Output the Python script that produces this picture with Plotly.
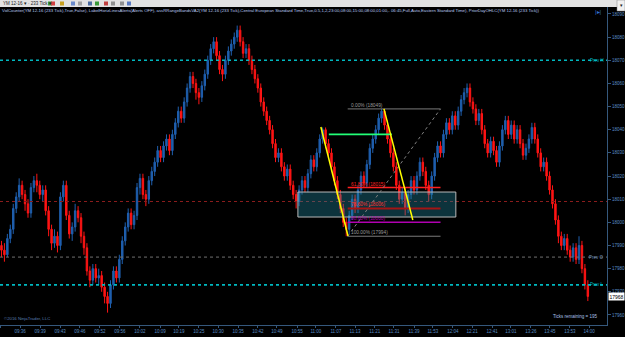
import plotly.graph_objects as go

# ---------------- data ----------------
closes = [17988,17986,17993,17997,18006,18011,18016,18012,18008,18004,
18015,18018,18016,18012,18014,18005,17997,17991,17994,17990,
18011,18016,18003,17995,17998,18005,18002,17994,17989,17979,
17975,17980,17976,17977,17972,17968,17965,17973,17979,17976,
17984,17992,17998,18004,17999,18003,18015,18019,18012,18010,
18018,18022,18026,18031,18028,18033,18036,18031,18038,18043,
18048,18045,18052,18058,18063,18060,18056,18054,18059,18064,
18070,18075,18078,18072,18066,18064,18070,18074,18077,18080,
18083,18078,18073,18075,18070,18066,18062,18058,18052,18048,
18044,18040,18034,18028,18030,18024,18020,18023,18016,18012,
18009,18014,18018,18015,18021,18027,18024,18030,18036,18040,
18034,18030,18024,18018,18012,18006,18000,17997,18003,18010,
18006,18014,18020,18017,18025,18032,18036,18040,18045,18048,
18042,18036,18030,18024,18016,18010,18013,18006,18012,18018,
18014,18020,18026,18022,18016,18012,18020,18028,18033,18030,
18038,18043,18040,18046,18042,18048,18053,18056,18058,18052,
18049,18044,18047,18040,18034,18030,18035,18031,18026,18033,
18040,18044,18038,18042,18036,18040,18034,18029,18032,18036,
18041,18036,18030,18024,18026,18020,18014,18008,18001,17994,
17990,17993,17988,17985,17989,17984,17990,17980,17973,17968]

opens = [17990,17988,17986,17993,17997,18006,18011,18016,18012,18008,
18004,18015,18018,18016,18012,18014,18005,17997,17991,17994,
17990,18011,18016,18003,17995,17998,18005,18002,17994,17989,
17979,17975,17980,17976,17977,17972,17968,17965,17973,17979,
17976,17984,17992,17998,18004,17999,18003,18015,18019,18012,
18010,18018,18022,18026,18031,18028,18033,18036,18031,18038,
18043,18048,18045,18052,18058,18063,18060,18056,18054,18059,
18064,18070,18075,18078,18072,18066,18064,18070,18074,18077,
18080,18083,18078,18073,18075,18070,18066,18062,18058,18052,
18048,18044,18040,18034,18028,18030,18024,18020,18023,18016,
18012,18009,18014,18018,18015,18021,18027,18024,18030,18036,
18040,18034,18030,18024,18018,18012,18006,18000,17997,18003,
18010,18006,18014,18020,18017,18025,18032,18036,18040,18045,
18048,18042,18036,18030,18024,18016,18010,18013,18006,18012,
18018,18014,18020,18026,18022,18016,18012,18020,18028,18033,
18030,18038,18043,18040,18046,18042,18048,18053,18056,18058,
18052,18049,18044,18047,18040,18034,18030,18035,18031,18026,
18033,18040,18044,18038,18042,18036,18040,18034,18029,18032,
18036,18041,18036,18030,18024,18026,18020,18014,18008,18001,
17994,17990,17993,17988,17985,17989,17984,17990,17980,17973]

highs = [17992,17991,17995,17999,18008,18013,18019,18018,18014,18010,
18017,18020,18021,18018,18016,18016,18007,17999,17997,17996,
18013,18018,18018,18005,18000,18008,18007,18004,17996,17991,
17981,17982,17982,17980,17979,17974,17970,17975,17981,17981,
17986,17994,18000,18006,18006,18005,18017,18021,18021,18014,
18020,18024,18028,18033,18033,18035,18038,18038,18040,18045,
18050,18050,18054,18060,18065,18065,18062,18058,18061,18066,
18072,18077,18080,18080,18074,18068,18072,18076,18079,18082,
18085,18085,18080,18077,18077,18072,18068,18064,18060,18054,
18050,18046,18042,18036,18032,18032,18026,18025,18025,18018,
18014,18016,18020,18020,18023,18029,18029,18032,18038,18041,
18041,18036,18032,18026,18020,18014,18008,18002,18005,18012,
18012,18016,18022,18022,18027,18034,18038,18042,18047,18049,
18049,18044,18038,18032,18026,18018,18015,18015,18014,18020,
18020,18022,18028,18028,18024,18018,18022,18030,18035,18035,
18040,18045,18045,18048,18048,18050,18055,18058,18060,18060,
18054,18051,18049,18049,18042,18036,18037,18037,18033,18035,
18042,18046,18046,18044,18044,18042,18042,18036,18034,18038,
18043,18043,18038,18032,18028,18028,18022,18016,18010,18003,
17996,17995,17995,17990,17991,17991,17994,17992,17982,17975]

lows = [17985,17983,17985,17991,17995,18004,18009,18010,18005,18002,
18002,18013,18013,18010,18009,18003,17994,17988,17989,17987,
17988,18009,18001,17993,17992,17996,18000,17991,17986,17977,
17972,17973,17974,17973,17970,17965,17961,17963,17971,17974,
17974,17982,17990,17996,17997,17997,18001,18012,18010,18007,
18008,18016,18020,18024,18026,18026,18031,18029,18029,18036,
18041,18043,18043,18050,18056,18058,18053,18051,18052,18057,
18062,18068,18073,18070,18064,18061,18062,18068,18072,18075,
18078,18076,18071,18071,18068,18064,18060,18056,18050,18046,
18042,18038,18032,18026,18026,18022,18018,18018,18014,18010,
18006,18007,18012,18013,18013,18019,18022,18022,18028,18034,
18032,18028,18022,18016,18010,18004,17998,17994,17995,18001,
18004,18004,18012,18015,18015,18023,18030,18034,18038,18043,
18040,18034,18028,18022,18014,18008,18008,18003,18004,18010,
18012,18012,18018,18020,18014,18009,18010,18018,18026,18028,
18028,18036,18038,18038,18040,18040,18046,18051,18054,18050,
18047,18042,18042,18038,18032,18028,18028,18029,18024,18024,
18031,18038,18036,18036,18034,18034,18032,18027,18027,18030,
18034,18034,18028,18022,18022,18018,18012,18006,17999,17991,
17988,17988,17986,17983,17983,17982,17982,17978,17971,17966]

bar_index = list(range(len(closes)))

time_ticks = [-0.3, 6.3, 13.1, 19.9, 26.6, 33.4, 40.2, 47.0, 53.8, 60.2, 67.0,
              73.5, 80.3, 87.0, 93.5, 100.3, 106.7, 113.5, 120.0, 126.7, 133.2,
              140.0, 146.4, 153.2, 159.7, 166.5, 172.9, 179.7, 186.1, 192.9, 199.4]
time_labels = ["09:32", "09:36", "09:39", "09:43", "09:46", "09:52", "09:56", "10:02",
               "10:09", "10:19", "10:25", "10:30", "10:35", "10:42", "10:49", "10:55",
               "11:00", "11:07", "11:13", "11:21", "11:31", "11:39", "11:53", "12:04",
               "12:21", "12:41", "13:01", "13:26", "13:45", "13:53", "14:00"]
price_ticks = [17960, 17970, 17980, 17990, 18000, 18010, 18020, 18030, 18040,
               18050, 18060, 18070, 18080, 18090]

prev_high = 18070
prev_open = 17985
prev_low = 17973
red_level = 18009
last_price = 17968

box_x = [100.6, 154.2]
box_y = [18002.3, 18013.1]

yellow1_x = [108.4, 117.6]
yellow1_y = [18041.2, 17994.1]
yellow2_x = [129.8, 139.6]
yellow2_y = [18049.0, 18001.0]
green_x = [111.1, 132.5]
green_y = [18038, 18038]

fib_x = [117.5, 149.0]
fib_pcts = ["0.00%", "61.80%", "78.60%", "88.60%", "100.00%"]
fib_vals = [18049, 18015, 18006, 18000, 17994]
fib_colors = ["#7a7a7a", "#ff2020", "#a31515", "#b000b0", "#7a7a7a"]
fib_widths = [1, 1.5, 2, 1.5, 1]

title_text = ("VolCounter(YM 12-16 (233 Tick),True,False), LabelHorizLinesAlerts(Alerts OFF), "
              "assRRangeBandsVA2(YM 12-16 (233 Tick),Central European Standard Time,True,0.5,1,2,"
              "23:00,08:00,15:00,08:00,01:00,- 06:45,Full,Auto,Eastern Standard Time), "
              "PriorDayOHLC(YM 12-16 (233 Tick))")

# ---------------- figure ----------------
W, H = 625, 337
ML, MR, MT, MB = 0, 18, 7, 12
PW, PH = W - ML - MR, H - MT - MB

fig = go.Figure()
fig.add_trace(go.Candlestick(
    x=bar_index, open=opens, high=highs, low=lows, close=closes,
    increasing=dict(line=dict(color="#1f5fae", width=1), fillcolor="#1f5fae"),
    decreasing=dict(line=dict(color="#ff1414", width=1), fillcolor="#ff1414"),
    whiskerwidth=0, hoverinfo="skip",
))

axis_col = "#35587c"
lab_col = "#5a8cc4"
FONT = "Liberation Sans"

shapes = []
for lvl, col, w, dash in [(prev_high, "#00b8c0", 1.6, "dot"), (prev_low, "#00b8c0", 1.6, "dot"),
                          (prev_open, "#707070", 1, "dot"), (red_level, "#8a1c1c", 1, "dot")]:
    shapes.append(dict(type="line", xref="paper", yref="y", x0=0, x1=1, y0=lvl, y1=lvl,
                       line=dict(color=col, width=w, dash=dash), layer="above"))
shapes.append(dict(type="rect", xref="x", yref="y", x0=box_x[0], x1=box_x[1], y0=box_y[0], y1=box_y[1],
                   fillcolor="rgba(35,140,165,0.36)", line=dict(color="#b8b8b8", width=1), layer="above"))
for v, c, w in zip(fib_vals, fib_colors, fib_widths):
    shapes.append(dict(type="line", xref="x", yref="y", x0=fib_x[0], x1=fib_x[1], y0=v, y1=v,
                       line=dict(color=c, width=w), layer="above"))
shapes.append(dict(type="line", xref="x", yref="y", x0=fib_x[0], x1=fib_x[1], y0=fib_vals[-1], y1=fib_vals[0],
                   line=dict(color="#808080", width=1, dash="dot"), layer="above"))
shapes.append(dict(type="line", xref="x", yref="y", x0=green_x[0], x1=green_x[1], y0=green_y[0], y1=green_y[1],
                   line=dict(color="#22ff77", width=1.6), layer="above"))
for xs, ys in [(yellow1_x, yellow1_y), (yellow2_x, yellow2_y)]:
    shapes.append(dict(type="line", xref="x", yref="y", x0=xs[0], x1=xs[1], y0=ys[0], y1=ys[1],
                       line=dict(color="#ffff00", width=1.5), layer="above"))
shapes.append(dict(type="rect", xref="paper", yref="paper", x0=0, x1=W / PW, y0=1, y1=1 + MT / PH,
                   fillcolor="#e2e2e2", line=dict(width=0), layer="above"))
icon_cols = ["#3a9a3a", "#d04040", "#c8a020", "#6a8acb", "#a0a0a0", "#4a6aa0", "#3a9a3a", "#c04040",
             "#909090", "#909090", "#5a7ac0"]
icon_px = [48, 51, 60, 71, 78, 88, 95, 104, 111, 120, 127]
for col, px in zip(icon_cols, icon_px):
    shapes.append(dict(type="rect", xref="paper", yref="paper", x0=px / PW, x1=(px + 4) / PW,
                       y0=1 + 1.5 / PH, y1=1 + 5.5 / PH, fillcolor=col, line=dict(width=0), layer="above"))
shapes.append(dict(type="rect", xref="paper", yref="paper", x0=(W - 8) / PW, x1=W / PW,
                   y0=1 + MT / PH - 11 / PH, y1=1 + MT / PH, fillcolor="#f0f0f0",
                   line=dict(color="#808080", width=0.5), layer="above"))

annotations = []
annotations.append(dict(xref="paper", yref="paper", x=1 / PW, y=1 + 3.5 / PH, text="YM 12-16 ▾ · 233 Tick ▾",
                        showarrow=False, xanchor="left", yanchor="middle",
                        font=dict(size=4.5, color="#202020", family=FONT)))
annotations.append(dict(xref="paper", yref="paper", x=(W - 4) / PW, y=1 + MT / PH - 5 / PH, text="▾",
                        showarrow=False, xanchor="center", yanchor="middle",
                        font=dict(size=5, color="#202020", family=FONT)))
annotations.append(dict(xref="paper", yref="paper", x=0, y=1 - 3.5 / PH, text=title_text,
                        showarrow=False, xanchor="left", yanchor="middle",
                        font=dict(size=4.3, color="#b8c8f0", family=FONT)))
annotations.append(dict(xref="paper", yref="paper", x=(W - MR - 9) / PW, y=1 - 5 / PH, text="|▸|",
                        showarrow=False, xanchor="center", yanchor="middle",
                        font=dict(size=6, color="#3070d0", family=FONT)))
for lvl, txt, col in [(prev_high, "Prev H", "#00b8c0"), (prev_open, "Prev O", "#7090b8"), (prev_low, "Prev L", "#00b8c0")]:
    annotations.append(dict(xref="paper", yref="y", x=1 - 1 / PW, y=lvl, text=txt, showarrow=False,
                            xanchor="right", yanchor="middle", font=dict(size=4.5, color=col, family=FONT)))
annotations.append(dict(xref="paper", yref="y", x=1 + 1 / PW, y=last_price, text=str(last_price),
                        showarrow=False, xanchor="left", yanchor="middle", bgcolor="#ffffff",
                        borderpad=0.5, font=dict(size=5, color="#000000", family=FONT)))
for p, v, c in zip(fib_pcts, fib_vals, fib_colors):
    annotations.append(dict(xref="x", yref="y", x=fib_x[0] + 0.3, y=v, text=f"{p} ({v})", showarrow=False,
                            xanchor="left", yanchor="bottom", yshift=-1,
                            font=dict(size=4.8, color="#9a9a9a" if c == "#7a7a7a" else
                                      ("#ff3030" if c == "#a31515" else c), family=FONT)))
annotations.append(dict(xref="paper", yref="paper", x=2 / PW, y=2 / PH, text="©2016 NinjaTrader, LLC",
                        showarrow=False, xanchor="left", yanchor="bottom",
                        font=dict(size=4.3, color="#5a7eb0", family=FONT)))
annotations.append(dict(xref="paper", yref="paper", x=(PW - 8) / PW, y=4 / PH, text="Ticks remaining = 195",
                        showarrow=False, xanchor="right", yanchor="bottom",
                        font=dict(size=4.5, color="#a8c0e8", family=FONT)))

fig.update_layout(
    width=W, height=H, margin=dict(l=ML, r=MR, t=MT, b=MB, pad=0),
    paper_bgcolor="#000000", plot_bgcolor="#000000", showlegend=False,
    shapes=shapes, annotations=annotations,
    xaxis=dict(range=[-0.5, 205.5], rangeslider=dict(visible=False), showgrid=False, zeroline=False,
               showline=True, linecolor=axis_col, linewidth=1, ticks="outside", ticklen=2,
               tickcolor=axis_col, tickvals=time_ticks, ticktext=time_labels, tickangle=0,
               tickfont=dict(size=4.5, color=lab_col, family=FONT), fixedrange=True),
    yaxis=dict(range=[17955.66, 18093.02], side="right", showgrid=False, zeroline=False,
               showline=True, linecolor=axis_col, linewidth=1, ticks="outside", ticklen=3,
               tickcolor=axis_col, tickvals=price_ticks, ticktext=[str(v) for v in price_ticks],
               tickfont=dict(size=4.5, color=lab_col, family=FONT), fixedrange=True),
)

fig.write_html("out.html")
